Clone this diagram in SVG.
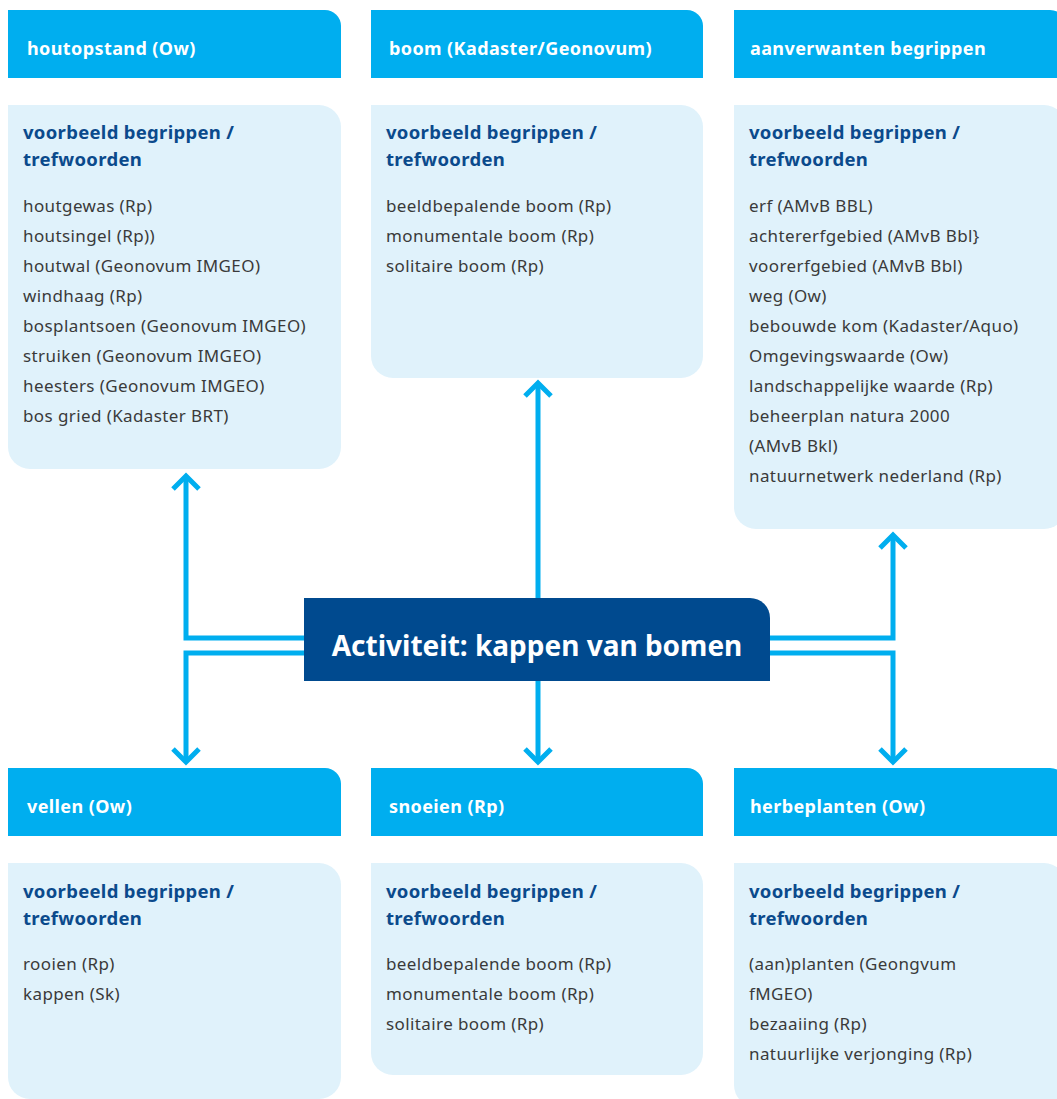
<svg xmlns="http://www.w3.org/2000/svg" width="1057" height="1099" viewBox="0 0 1057 1099">
<style>
.hdr{fill:#00AEEF}
.body{fill:#E0F2FB}
.core{fill:#004A8F}
.ht{font-family:"Noto Sans","Liberation Sans",sans-serif;font-weight:700;font-size:18px;letter-spacing:0.4px;fill:#fff}
.bt{font-family:"Noto Sans","Liberation Sans",sans-serif;font-weight:700;font-size:18.5px;letter-spacing:0.3px;fill:#0B4A8C}
.it{font-family:"Noto Sans","Liberation Sans",sans-serif;font-size:17px;letter-spacing:0.4px;fill:#3a3a3a}
.ct{font-family:"Noto Sans","Liberation Sans",sans-serif;font-weight:700;font-size:28px;fill:#fff}
.con{fill:none;stroke:#00AEEF;stroke-width:5;marker-end:url(#chev)}
</style>
<defs>
<marker id="chev" markerUnits="userSpaceOnUse" viewBox="-20 -20 40 40" markerWidth="40" markerHeight="40" refX="0" refY="0" orient="auto">
<polyline points="-13,-13 0,0 -13,13" fill="none" stroke="#00AEEF" stroke-width="5" stroke-linecap="butt" stroke-linejoin="miter"/>
</marker>
</defs>
<g id="connectors">
<path class="con" d="M304,638 H186 V476"/>
<path class="con" d="M304,653 H186 V762"/>
<path class="con" d="M538,598 V383"/>
<path class="con" d="M538,681 V762"/>
<path class="con" d="M770,638 H893 V535"/>
<path class="con" d="M770,653 H893 V762"/>
</g>
<g id="houtopstand">
<path class="hdr" d="M8,10 H325 A16,16 0 0 1 341,26 V78 H8 Z"/>
<text class="ht" x="27" y="55">houtopstand (Ow)</text>
<path class="body" d="M8,105 H319 A22,22 0 0 1 341,127 V447 A22,22 0 0 1 319,469 H30 A22,22 0 0 1 8,447 Z"/>
<text class="bt" x="23" y="139">voorbeeld begrippen /</text>
<text class="bt" x="23" y="166">trefwoorden</text>
<text class="it" x="23" y="212">houtgewas (Rp)</text>
<text class="it" x="23" y="242">houtsingel (Rp))</text>
<text class="it" x="23" y="272">houtwal (Geonovum IMGEO)</text>
<text class="it" x="23" y="302">windhaag (Rp)</text>
<text class="it" x="23" y="332">bosplantsoen (Geonovum IMGEO)</text>
<text class="it" x="23" y="362">struiken (Geonovum IMGEO)</text>
<text class="it" x="23" y="392">heesters (Geonovum IMGEO)</text>
<text class="it" x="23" y="422">bos gried (Kadaster BRT)</text>
</g>
<g id="boom">
<path class="hdr" d="M371,10 H687 A16,16 0 0 1 703,26 V78 H371 Z"/>
<text class="ht" x="389" y="55">boom (Kadaster/Geonovum)</text>
<path class="body" d="M371,105 H681 A22,22 0 0 1 703,127 V356 A22,22 0 0 1 681,378 H393 A22,22 0 0 1 371,356 Z"/>
<text class="bt" x="386" y="139">voorbeeld begrippen /</text>
<text class="bt" x="386" y="166">trefwoorden</text>
<text class="it" x="386" y="212">beeldbepalende boom (Rp)</text>
<text class="it" x="386" y="242">monumentale boom (Rp)</text>
<text class="it" x="386" y="272">solitaire boom (Rp)</text>
</g>
<g id="aanverwanten">
<path class="hdr" d="M734,10 H1050 A16,16 0 0 1 1066,26 V78 H734 Z"/>
<text class="ht" x="750" y="55">aanverwanten begrippen</text>
<path class="body" d="M734,105 H1044 A22,22 0 0 1 1066,127 V507 A22,22 0 0 1 1044,529 H756 A22,22 0 0 1 734,507 Z"/>
<text class="bt" x="749" y="139">voorbeeld begrippen /</text>
<text class="bt" x="749" y="166">trefwoorden</text>
<text class="it" x="749" y="212">erf (AMvB BBL)</text>
<text class="it" x="749" y="242">achtererfgebied (AMvB Bbl}</text>
<text class="it" x="749" y="272">voorerfgebied (AMvB Bbl)</text>
<text class="it" x="749" y="302">weg (Ow)</text>
<text class="it" x="749" y="332">bebouwde kom (Kadaster/Aquo)</text>
<text class="it" x="749" y="362">Omgevingswaarde (Ow)</text>
<text class="it" x="749" y="392">landschappelijke waarde (Rp)</text>
<text class="it" x="749" y="422">beheerplan natura 2000</text>
<text class="it" x="749" y="452">(AMvB Bkl)</text>
<text class="it" x="749" y="482">natuurnetwerk nederland (Rp)</text>
</g>
<g id="activiteit">
<path class="core" d="M304,598 H750 A20,20 0 0 1 770,618 V681 H304 Z"/>
<text class="ct" x="537" y="656" text-anchor="middle">Activiteit: kappen van bomen</text>
</g>
<g id="vellen">
<path class="hdr" d="M8,768 H325 A16,16 0 0 1 341,784 V836 H8 Z"/>
<text class="ht" x="27" y="813">vellen (Ow)</text>
<path class="body" d="M8,863 H319 A22,22 0 0 1 341,885 V1077 A22,22 0 0 1 319,1099 H30 A22,22 0 0 1 8,1077 Z"/>
<text class="bt" x="23" y="898">voorbeeld begrippen /</text>
<text class="bt" x="23" y="925">trefwoorden</text>
<text class="it" x="23" y="970">rooien (Rp)</text>
<text class="it" x="23" y="1000">kappen (Sk)</text>
</g>
<g id="snoeien">
<path class="hdr" d="M371,768 H687 A16,16 0 0 1 703,784 V836 H371 Z"/>
<text class="ht" x="389" y="813">snoeien (Rp)</text>
<path class="body" d="M371,863 H681 A22,22 0 0 1 703,885 V1053 A22,22 0 0 1 681,1075 H393 A22,22 0 0 1 371,1053 Z"/>
<text class="bt" x="386" y="898">voorbeeld begrippen /</text>
<text class="bt" x="386" y="925">trefwoorden</text>
<text class="it" x="386" y="970">beeldbepalende boom (Rp)</text>
<text class="it" x="386" y="1000">monumentale boom (Rp)</text>
<text class="it" x="386" y="1030">solitaire boom (Rp)</text>
</g>
<g id="herbeplanten">
<path class="hdr" d="M734,768 H1050 A16,16 0 0 1 1066,784 V836 H734 Z"/>
<text class="ht" x="750" y="813">herbeplanten (Ow)</text>
<path class="body" d="M734,863 H1044 A22,22 0 0 1 1066,885 V1085 A22,22 0 0 1 1044,1107 H756 A22,22 0 0 1 734,1085 Z"/>
<text class="bt" x="749" y="898">voorbeeld begrippen /</text>
<text class="bt" x="749" y="925">trefwoorden</text>
<text class="it" x="749" y="970">(aan)planten (Geongvum</text>
<text class="it" x="749" y="1000">fMGEO)</text>
<text class="it" x="749" y="1030">bezaaiing (Rp)</text>
<text class="it" x="749" y="1060">natuurlijke verjonging (Rp)</text>
</g>
</svg>
